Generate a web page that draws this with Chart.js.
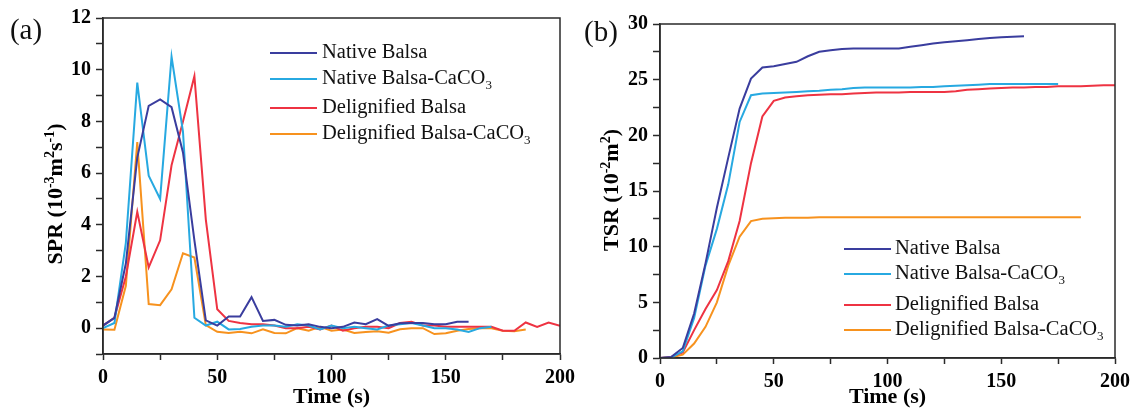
<!DOCTYPE html>
<html>
<head>
<meta charset="utf-8">
<script src="https://cdn.jsdelivr.net/npm/chart.js@4.4.1/dist/chart.umd.min.js"></script>
<style>
html,body{margin:0;padding:0;background:#fff;}
body{width:1133px;height:411px;overflow:hidden;position:relative;}
#ca{position:absolute;left:0;top:0;}
#cb{position:absolute;left:570px;top:0;}
</style>
</head>
<body>
<canvas id="ca" width="600" height="411"></canvas>
<canvas id="cb" width="563" height="411"></canvas>
<script>
// ---------- data ----------
const times = [0,5,10,15,20,25,30,35,40,45,50,55,60,65,70,75,80,85,90,95,100,105,110,115,120,125,130,135,140,145,150,155,160,165,170,175,180,185,190,195,200];
const seriesNames = ['Native Balsa','Native Balsa-CaCO\u2083','Delignified Balsa','Delignified Balsa-CaCO\u2083'];
const seriesColors = ['#3A3D9E','#27A9E1','#EE3342','#F7921E'];

// (a) SPR, 10^-3 m^2 s^-1
const sprNative   = [0.1,0.4,2.5,6.6,8.6,8.85,8.55,6.8,3.4,0.3,0.1,0.45,0.45,1.2,0.28,0.32,0.13,0.1,0.15,0.05,0.0,0.05,0.22,0.15,0.35,0.09,0.19,0.2,0.2,0.15,0.15,0.25,0.25];
const sprNativeCa = [0.0,0.2,3.3,9.5,5.9,5.0,10.5,7.6,0.4,0.1,0.25,-0.05,-0.03,0.05,0.1,0.1,0.05,0.15,0.1,-0.05,0.1,0.0,0.05,0.0,-0.05,0.1,0.15,0.2,0.1,0.0,0.0,-0.05,-0.15,0.0,0.05];
const sprDelig    = [0.1,0.4,2.0,4.5,2.35,3.4,6.3,8.0,9.75,4.2,0.73,0.28,0.2,0.15,0.15,0.1,0.0,0.0,0.05,-0.05,0.1,-0.1,0.0,0.05,0.05,0.0,0.2,0.25,0.1,0.1,0.05,0.05,0.05,0.05,0.05,-0.1,-0.1,0.22,0.05,0.22,0.09];
const sprDeligCa  = [-0.05,-0.06,1.64,7.2,0.93,0.89,1.5,2.9,2.73,0.12,-0.14,-0.19,-0.14,-0.2,-0.04,-0.19,-0.2,0.0,-0.1,0.05,-0.1,-0.05,-0.19,-0.15,-0.12,-0.18,-0.04,0.0,0.0,-0.23,-0.2,-0.1,-0.03,0.0,0.0,-0.1,-0.12,-0.05];

// (b) TSR, 10^-2 m^2
const tsrNative   = [0,0.1,0.9,4.0,8.5,13.5,18.0,22.4,25.1,26.1,26.2,26.4,26.6,27.1,27.5,27.65,27.75,27.8,27.8,27.8,27.8,27.8,27.95,28.1,28.25,28.35,28.45,28.55,28.65,28.75,28.8,28.85,28.9];
const tsrNativeCa = [0,0.05,0.6,3.6,8.3,11.6,15.6,21.2,23.6,23.75,23.8,23.85,23.9,23.95,24.0,24.1,24.15,24.25,24.3,24.3,24.3,24.3,24.3,24.35,24.35,24.4,24.45,24.5,24.55,24.6,24.6,24.6,24.6,24.6,24.6,24.6];
const tsrDelig    = [0,0.1,0.5,2.5,4.4,6.1,8.7,12.3,17.5,21.7,23.1,23.4,23.5,23.6,23.65,23.7,23.7,23.75,23.8,23.85,23.85,23.85,23.9,23.9,23.9,23.9,23.95,24.1,24.15,24.2,24.25,24.3,24.3,24.35,24.35,24.4,24.4,24.4,24.45,24.5,24.5];
const tsrDeligCa  = [0,0.05,0.3,1.3,2.8,5.0,8.3,10.9,12.3,12.5,12.55,12.6,12.6,12.6,12.65,12.65,12.65,12.65,12.65,12.65,12.65,12.65,12.65,12.65,12.65,12.65,12.65,12.65,12.65,12.65,12.65,12.65,12.65,12.65,12.65,12.65,12.65,12.65];

const xTickLabels = [0,50,100,150,200];
const sprTickLabels = [0,2,4,6,8,10,12];
const tsrTickLabels = [0,5,10,15,20,25,30];
// axis titles as [text, isSuperscript] runs
const sprTitle = [['SPR (10',0],['-3',1],['m',0],['2',1],['s',0],['-1',1],[')',0]];
const tsrTitle = [['TSR (10',0],['-2',1],['m',0],['2',1],[')',0]];

// ---------- helpers ----------
const SERIF = '"Liberation Serif","Times New Roman",Times,serif';
const pts = arr => arr.map((v,i)=>({x:times[i], y:v}));

function datasetsFrom(list){
  return list.map((arr,i)=>({
    label: seriesNames[i], data: pts(arr), borderColor: seriesColors[i],
    backgroundColor: seriesColors[i], borderWidth: 2, pointRadius: 0, tension: 0, fill:false
  }));
}

const framePlugin = {
  id:'frame',
  afterDraw(chart, args, o){
    const {ctx, chartArea:a} = chart;
    ctx.save();
    ctx.strokeStyle = '#2a2a2a'; ctx.lineWidth = 1.5;
    ctx.strokeRect(a.left, a.top, a.right-a.left, a.bottom-a.top);
    ctx.fillStyle = '#111';
    ctx.font = '29px ' + SERIF;
    ctx.textAlign = 'center'; ctx.textBaseline = 'middle';
    ctx.fillText(o.tag, o.tagX, o.tagY);
    // rotated y title with superscripts
    const big = 'bold ' + o.tsize + 'px ' + SERIF;
    const small = 'bold ' + Math.round(o.tsize*0.64) + 'px ' + SERIF;
    let total = 0;
    o.title.forEach(([t,s])=>{ ctx.font = s?small:big; total += ctx.measureText(t).width; });
    ctx.translate(o.titleX, o.titleY);
    ctx.rotate(-Math.PI/2);
    ctx.textAlign = 'left'; ctx.textBaseline = 'alphabetic'; ctx.fillStyle = '#000';
    let x = -total/2;
    const base = o.tsize*0.33;
    o.title.forEach(([t,s])=>{
      ctx.font = s?small:big;
      ctx.fillText(t, x, s ? base - o.tsize*0.38 : base);
      x += ctx.measureText(t).width;
    });
    ctx.restore();
  }
};

const inLegend = {
  id:'inLegend',
  afterDatasetsDraw(chart, args, o){
    const ctx = chart.ctx;
    ctx.save();
    chart.data.datasets.forEach((ds,i)=>{
      const y = o.rows[i];
      ctx.strokeStyle = ds.borderColor; ctx.lineWidth = 2;
      ctx.beginPath(); ctx.moveTo(o.x0, y); ctx.lineTo(o.x1, y); ctx.stroke();
      ctx.fillStyle = '#111'; ctx.textBaseline = 'middle'; ctx.textAlign = 'left';
      let x = o.x1 + o.gap;
      const parts = ds.label.split('\u2083');
      ctx.font = o.size + 'px ' + SERIF;
      ctx.fillText(parts[0], x, y);
      if (parts.length > 1){
        x += ctx.measureText(parts[0]).width;
        ctx.font = Math.round(o.size*0.65) + 'px ' + SERIF;
        ctx.fillText('3', x, y + o.size*0.3);
      }
    });
    ctx.restore();
  }
};

function makeChart(id, list, cfg){
  const tickFont = {family:SERIF, size:20, weight:'bold'};
  const titleFont = {family:SERIF, size:22, weight:'bold'};
  return new Chart(document.getElementById(id), {
    type:'line',
    data:{datasets: datasetsFrom(list)},
    options:{
      responsive:false, animation:false, devicePixelRatio:1,
      layout:{padding:cfg.pad},
      plugins:{
        legend:{display:false}, tooltip:{enabled:false},
        frame:{tag:cfg.tag, tagX:cfg.tagX, tagY:cfg.tagY, title:cfg.ytitle, titleX:cfg.titleX, titleY:cfg.titleY, tsize:22},
        inLegend:cfg.legend
      },
      scales:{
        x:{type:'linear', min:0, max:200,
          ticks:{stepSize:25, autoSkip:false, maxRotation:0, color:'#000', font:tickFont, padding:6,
            callback:v=> xTickLabels.includes(v) ? String(v) : ''},
          grid:{drawOnChartArea:false, drawTicks:true, tickLength:6, tickColor:'#2a2a2a', tickWidth:1.5},
          border:{display:true, color:'#2a2a2a', width:1.5},
          title:{display:true, text:'Time (s)', color:'#000', font:titleFont, padding:{top:0,bottom:0}},
          afterFit:s=>{ s.height = cfg.xh; s.paddingLeft = 0; s.paddingRight = 0; }
        },
        y:{type:'linear', min:cfg.ymin, max:cfg.ymax,
          ticks:{stepSize:cfg.ystep, autoSkip:false, color:'#000', font:tickFont, padding:5,
            callback:v=> cfg.ylabels.includes(v) ? String(v) : ''},
          grid:{drawOnChartArea:false, drawTicks:true, tickLength:7, tickColor:'#2a2a2a', tickWidth:1.5},
          border:{display:true, color:'#2a2a2a', width:1.5},
          title:{display:false},
          afterFit:s=>{ s.width = cfg.yw; s.paddingTop = 0; s.paddingBottom = 0; }
        }
      }
    },
    plugins:[framePlugin, inLegend]
  });
}

makeChart('ca', [sprNative, sprNativeCa, sprDelig, sprDeligCa], {
  pad:{left:0, right:40, top:18, bottom:0}, xh:57, yw:103,
  ymin:-1, ymax:12, ystep:1, ylabels:sprTickLabels,
  ytitle:sprTitle, titleX:55, titleY:194,
  tag:'(a)', tagX:26, tagY:31,
  legend:{x0:270, x1:317, gap:5, size:20.5, rows:[53,79,108,134]}
});

makeChart('cb', [tsrNative, tsrNativeCa, tsrDelig, tsrDeligCa], {
  pad:{left:0, right:18, top:24, bottom:0}, xh:53, yw:90,
  ymin:0, ymax:30, ystep:2.5, ylabels:tsrTickLabels,
  ytitle:tsrTitle, titleX:41, titleY:190,
  tag:'(b)', tagX:31, tagY:33,
  legend:{x0:274, x1:321, gap:4, size:20.5, rows:[249,274,305,330]}
});
</script>
</body>
</html>
